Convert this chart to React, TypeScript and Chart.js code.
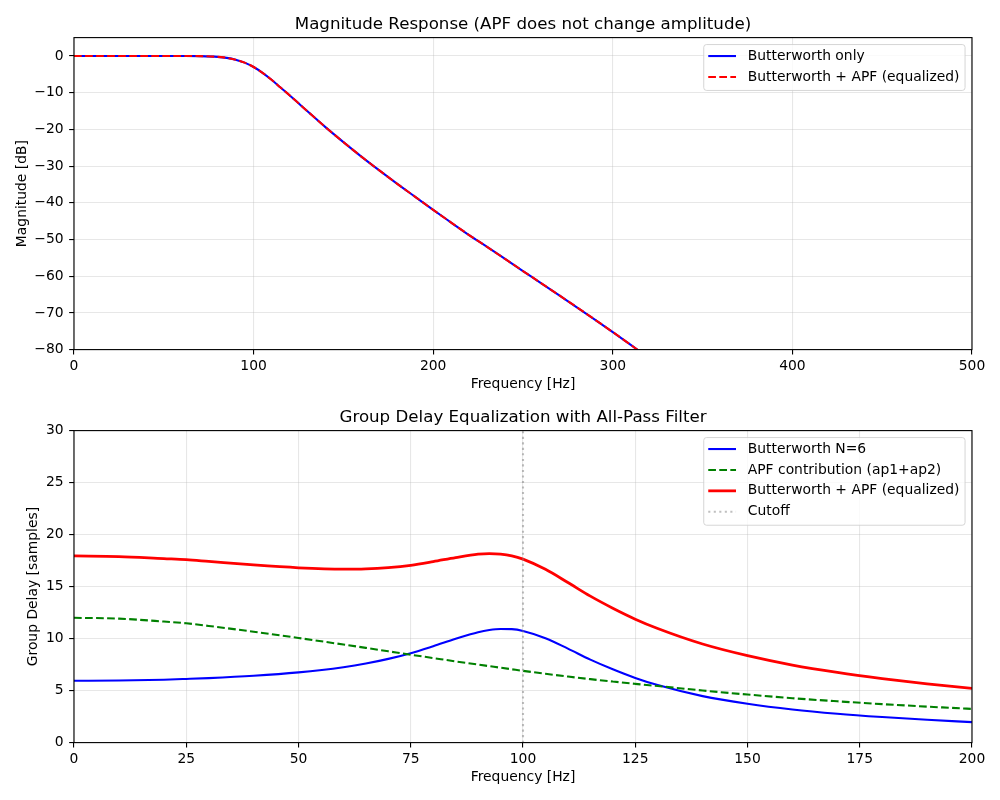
import { useEffect, useRef } from "react";
import { Chart, registerables } from "chart.js";

Chart.register(...registerables);

// ---- data -------------------------------------------------------------

// Magnitude response (dB) of the 6th-order Butterworth low-pass, fs = 1 kHz, fc = 100 Hz
const magFreq = [0, 10, 20, 30, 40, 50, 60, 70, 80, 85, 90, 95, 100, 105, 110, 115, 120, 125, 130, 140, 150, 160, 170, 180, 190, 200, 210, 220, 230, 240, 250, 260, 270, 280, 290, 300, 310, 320];
const magButterworth = [0, 0, 0, 0, 0, -0.001, -0.007, -0.049, -0.25, -0.52, -1.01, -1.81, -3.01, -4.59, -6.49, -8.6, -10.69, -12.88, -15.07, -19.4, -23.47, -27.41, -31.18, -34.85, -38.39, -41.94, -45.38, -48.81, -52.02, -55.31, -58.59, -61.86, -65.15, -68.47, -71.82, -75.23, -78.71, -82.29];
// the all-pass sections leave the amplitude untouched
const magEqualized = [0, 0, 0, 0, 0, -0.001, -0.007, -0.049, -0.25, -0.52, -1.01, -1.81, -3.01, -4.59, -6.49, -8.6, -10.69, -12.88, -15.07, -19.4, -23.47, -27.41, -31.18, -34.85, -38.39, -41.94, -45.38, -48.81, -52.02, -55.31, -58.59, -61.86, -65.15, -68.47, -71.82, -75.23, -78.71, -82.29];

// Group delay (samples)
const gdFreq = [0, 10, 20, 25, 30, 40, 50, 60, 65, 70, 75, 80, 85, 90, 92.5, 95, 97.5, 100, 105, 110, 115, 120, 125, 130, 140, 150, 160, 170, 180, 190, 200];
const gdButterworth = [5.95, 5.97, 6.05, 6.12, 6.2, 6.42, 6.75, 7.25, 7.6, 8.05, 8.6, 9.27, 9.98, 10.62, 10.83, 10.93, 10.91, 10.74, 10.04, 9.04, 7.98, 7.05, 6.22, 5.53, 4.47, 3.74, 3.19, 2.78, 2.46, 2.19, 1.97];
const gdAllpass = [12.0, 11.92, 11.64, 11.47, 11.22, 10.66, 10.06, 9.43, 9.11, 8.78, 8.45, 8.13, 7.81, 7.5, 7.35, 7.2, 7.05, 6.9, 6.62, 6.35, 6.1, 5.87, 5.65, 5.44, 5.01, 4.62, 4.27, 3.97, 3.7, 3.46, 3.24];
const gdEqualized = [17.95, 17.89, 17.69, 17.59, 17.42, 17.08, 16.81, 16.68, 16.71, 16.83, 17.05, 17.4, 17.79, 18.12, 18.18, 18.13, 17.96, 17.64, 16.66, 15.39, 14.08, 12.92, 11.87, 10.97, 9.48, 8.36, 7.46, 6.75, 6.16, 5.65, 5.21];
const cutoffHz = 100;

// Tick positions
const magXTicks = [0, 100, 200, 300, 400, 500];
const magYTicks = [-80, -70, -60, -50, -40, -30, -20, -10, 0];
const gdXTicks = [0, 25, 50, 75, 100, 125, 150, 175, 200];
const gdYTicks = [0, 5, 10, 15, 20, 25, 30];

// ---- styling helpers ---------------------------------------------------

const FONT = "DejaVu Sans";
const PT = 100 / 72; // points -> pixels at 100 dpi
const TICK_PX = 10 * PT;
const TITLE_PX = 12 * PT;

const pts = (xs: number[], ys: number[]) => xs.map((x, i) => ({ x, y: ys[i] }));
const fmt = (v: number) => (v < 0 ? "\u2212" + Math.abs(v) : String(v));

const gridStyle = {
  color: "rgba(176,176,176,0.3)",
  lineWidth: 0.8 * PT,
  drawTicks: true,
  tickColor: "#000",
  tickLength: 3.5 * PT,
  tickWidth: 0.8 * PT,
};

function axis(
  min: number,
  max: number,
  tickValues: number[],
  label: string,
  tickPad: number,
  titlePad: any,
  fit: (s: any) => void
) {
  return {
    type: "linear",
    min,
    max,
    afterBuildTicks: (s: any) => {
      s.ticks = tickValues.map((value) => ({ value }));
    },
    afterFit: fit,
    grid: gridStyle,
    border: { display: false },
    ticks: {
      color: "#000",
      font: { family: FONT, size: TICK_PX },
      padding: tickPad,
      autoSkip: false,
      maxRotation: 0,
      callback: (v: any) => fmt(Number(v)),
    },
    title: {
      display: true,
      text: label,
      color: "#000",
      font: { family: FONT, size: TICK_PX },
      padding: titlePad,
    },
  };
}

// Black box around the plotting area
const framePlugin = {
  id: "axesFrame",
  afterDatasetsDraw(chart: any) {
    const { ctx, chartArea } = chart;
    ctx.save();
    ctx.strokeStyle = "#000";
    ctx.lineWidth = 0.8 * PT;
    ctx.strokeRect(chartArea.left, chartArea.top, chartArea.right - chartArea.left, chartArea.bottom - chartArea.top);
    ctx.restore();
  },
};

// Upper-right legend with line samples in a rounded box
const boxLegendPlugin = {
  id: "boxLegend",
  afterDraw(chart: any) {
    const { ctx, chartArea } = chart;
    const sets = chart.data.datasets;
    ctx.save();
    ctx.font = `${TICK_PX}px "${FONT}"`;
    const textW = Math.max(...sets.map((d: any) => ctx.measureText(d.label).width));
    const rowGap = 20.9;
    const right = chartArea.right - 0.5 * TICK_PX;
    const top = chartArea.top + 0.5 * TICK_PX;
    const w = 44 + textW + 5.6;
    const h = 11.5 + (sets.length - 1) * rowGap + 13.5;
    const left = right - w;
    const r = 2.8;
    ctx.beginPath();
    ctx.moveTo(left + r, top);
    ctx.arcTo(right, top, right, top + h, r);
    ctx.arcTo(right, top + h, left, top + h, r);
    ctx.arcTo(left, top + h, left, top, r);
    ctx.arcTo(left, top, right, top, r);
    ctx.closePath();
    ctx.fillStyle = "rgba(255,255,255,0.8)";
    ctx.fill();
    ctx.lineWidth = 1;
    ctx.strokeStyle = "rgba(204,204,204,0.8)";
    ctx.stroke();
    sets.forEach((d: any, i: number) => {
      const y = top + 11.5 + i * rowGap;
      ctx.beginPath();
      ctx.setLineDash(d.borderDash || []);
      ctx.lineWidth = d.borderWidth;
      ctx.strokeStyle = d.borderColor;
      ctx.moveTo(left + 4.5, y);
      ctx.lineTo(left + 4.5 + 2 * TICK_PX, y);
      ctx.stroke();
      ctx.setLineDash([]);
      ctx.fillStyle = "#000";
      ctx.textBaseline = "middle";
      ctx.textAlign = "left";
      ctx.fillText(d.label, left + 44, y);
    });
    ctx.restore();
  },
};

const dashed = [3.7 * 1.5 * PT, 1.6 * 1.5 * PT];
const dotted = [1 * 1.5 * PT, 1.65 * 1.5 * PT];

function lineSet(label: string, data: any[], color: string, width: number, order: number, dash?: number[]) {
  return {
    label,
    data,
    borderColor: color,
    backgroundColor: color,
    borderWidth: width,
    borderDash: dash || [],
    pointRadius: 0,
    fill: false,
    order,
    clip: 0,
    cubicInterpolationMode: "monotone",
  };
}

function baseOptions(title: string, titlePad: any, scales: any) {
  return {
    responsive: false,
    devicePixelRatio: 1,
    animation: false,
    events: [],
    layout: { padding: { left: 0, right: 28, top: 0, bottom: 0 } },
    plugins: {
      legend: { display: false },
      tooltip: { enabled: false },
      title: {
        display: true,
        text: title,
        color: "#000",
        fullSize: false,
        font: { family: FONT, size: TITLE_PX, weight: "normal", lineHeight: 1.2 },
        padding: titlePad,
      },
    },
    scales,
  };
}

export default function App() {
  const topRef = useRef<HTMLCanvasElement | null>(null);
  const bottomRef = useRef<HTMLCanvasElement | null>(null);

  useEffect(() => {
    const magChart = new Chart(topRef.current as HTMLCanvasElement, {
      type: "line",
      data: {
        datasets: [
          lineSet("Butterworth only", pts(magFreq, magButterworth), "#0000ff", 1.5 * PT, 2),
          lineSet("Butterworth + APF (equalized)", pts(magFreq, magEqualized), "#ff0000", 1.5 * PT, 1, dashed),
        ],
      } as any,
      options: baseOptions("Magnitude Response (APF does not change amplitude)", { top: 14.2, bottom: 3.4 }, {
        x: axis(0, 500, magXTicks, "Frequency [Hz]", 3.4, { top: 0, bottom: 6.9 }, (s: any) => {
          s.height = 50.4;
        }),
        y: axis(-80, 5, magYTicks, "Magnitude [dB]", 5.5, { top: 13.6, bottom: 0 }, (s: any) => {
          s.width = 74;
        }),
      }) as any,
      plugins: [framePlugin, boxLegendPlugin],
    });

    const gdChart = new Chart(bottomRef.current as HTMLCanvasElement, {
      type: "line",
      data: {
        datasets: [
          lineSet("Butterworth N=6", pts(gdFreq, gdButterworth), "#0000ff", 1.5 * PT, 4),
          lineSet("APF contribution (ap1+ap2)", pts(gdFreq, gdAllpass), "#008000", 1.5 * PT, 3, dashed),
          lineSet("Butterworth + APF (equalized)", pts(gdFreq, gdEqualized), "#ff0000", 2 * PT, 2),
          lineSet("Cutoff", [{ x: cutoffHz, y: 0 }, { x: cutoffHz, y: 30 }], "rgba(128,128,128,0.5)", 1.5 * PT, 1, dotted),
        ],
      } as any,
      options: baseOptions("Group Delay Equalization with All-Pass Filter", { top: 7.5, bottom: 3.1 }, {
        x: axis(0, 200, gdXTicks, "Frequency [Hz]", 3.4, { top: 0, bottom: 13.9 }, (s: any) => {
          s.height = 57.4;
        }),
        y: axis(0, 30, gdYTicks, "Group Delay [samples]", 5.5, { top: 24.8, bottom: 0 }, (s: any) => {
          s.width = 74;
        }),
      }) as any,
      plugins: [framePlugin, boxLegendPlugin],
    });

    return () => {
      magChart.destroy();
      gdChart.destroy();
    };
  }, []);

  return (
    <div style={{ position: "absolute", left: 0, top: 0, width: 1000, height: 800, background: "#fff" }}>
      <canvas ref={topRef} width={1000} height={400} style={{ display: "block" }} />
      <canvas ref={bottomRef} width={1000} height={400} style={{ display: "block" }} />
    </div>
  );
}
